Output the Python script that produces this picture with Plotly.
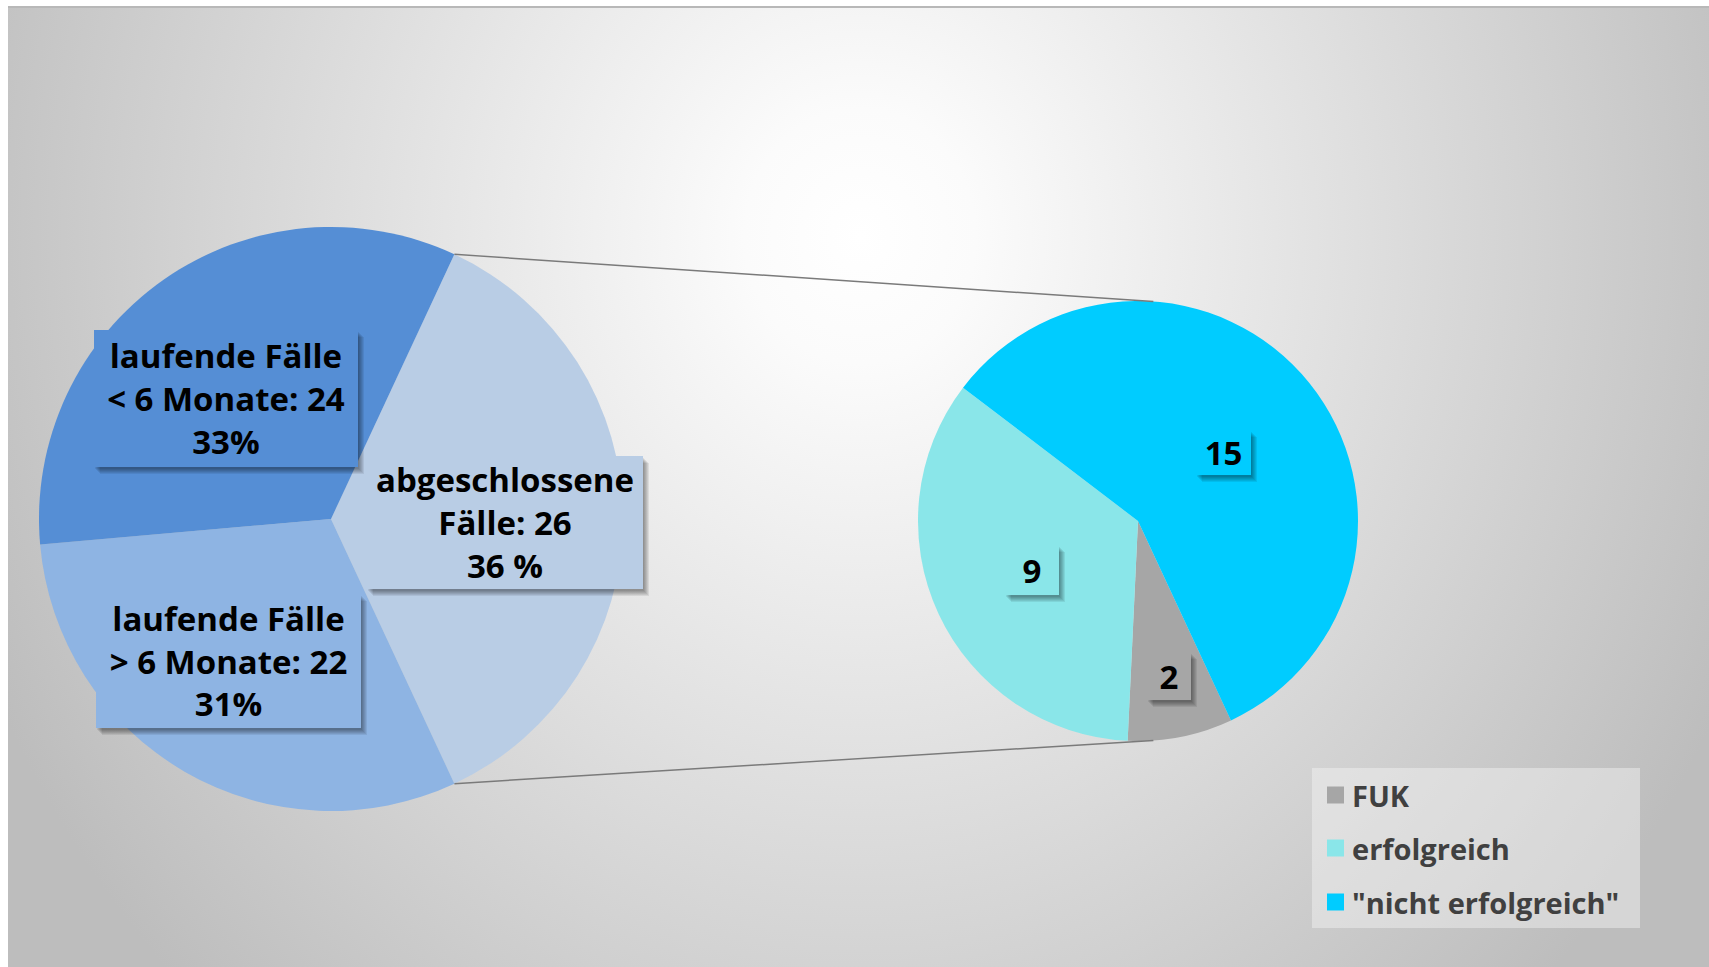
import base64
import math
import plotly.graph_objects as go

# ---------------- data ----------------
main_categories = ["abgeschlossene Fälle", "laufende Fälle > 6 Monate", "laufende Fälle < 6 Monate"]
main_values = [26, 22, 24]
main_label_head = ["abgeschlossene", "laufende Fälle", "laufende Fälle"]
main_label_name = ["Fälle", "&gt; 6 Monate", "&lt; 6 Monate"]
main_percent_text = ["36 %", "31%", "33%"]
main_colors = ["#B9CDE5", "#8EB4E3", "#558ED5"]

sub_categories = ["FUK", "erfolgreich", "\"nicht erfolgreich\""]
sub_values = [2, 9, 15]
sub_colors = ["#A6A6A6", "#8AE6E9", "#00CCFF"]

# ---------------- geometry (pixels) ----------------
W, H = 1709, 967
L_cx, L_cy, L_r = 331, 519, 292
R_cx, R_cy, R_r = 1138, 521, 220
R_rotation = 155
L_rotation = 90 - 360 * main_values[0] / sum(main_values) / 2

def px(x):
    return x / W

def py(y):
    return 1 - y / H

def domain(cx, cy, r):
    return dict(x=[px(cx - r), px(cx + r)], y=[py(cy + r), py(cy - r)])

def polar(cx, cy, r, ang):
    a = math.radians(ang)
    return cx + r * math.sin(a), cy - r * math.cos(a)

def mid_angles(values, rotation):
    tot = sum(values)
    out, start = [], rotation
    for v in values:
        span = 360 * v / tot
        out.append(start + span / 2)
        start += span
    return out

fig = go.Figure()
fig.add_trace(go.Pie(
    labels=main_categories, values=main_values, sort=False, direction="clockwise",
    rotation=L_rotation, marker=dict(colors=main_colors, line=dict(width=0)),
    textinfo="none", hoverinfo="label+value+percent", showlegend=False,
    domain=domain(L_cx, L_cy, L_r),
))
fig.add_trace(go.Pie(
    labels=sub_categories, values=sub_values, sort=False, direction="clockwise",
    rotation=R_rotation, marker=dict(colors=sub_colors, line=dict(width=0)),
    textinfo="none", hoverinfo="label+value+percent", showlegend=False,
    domain=domain(R_cx, R_cy, R_r),
))

# ---------------- background (radial gradient) ----------------
bx0, by0 = 8, 6
bw, bh = W - bx0, H - by0
svg = (
    f'<svg xmlns="http://www.w3.org/2000/svg" width="{bw}" height="{bh}" viewBox="0 0 {bw} {bh}" '
    f'preserveAspectRatio="none"><defs><radialGradient id="g" gradientUnits="userSpaceOnUse" '
    f'cx="0" cy="0" r="1" gradientTransform="translate(852 230) scale(960 1060)">'
    f'<stop offset="0" stop-color="#ffffff"/><stop offset="0.12" stop-color="#fbfbfb"/>'
    f'<stop offset="1" stop-color="#bdbdbd"/></radialGradient></defs>'
    f'<rect x="0" y="0" width="{bw}" height="{bh}" fill="url(#g)"/></svg>'
)
src = "data:image/svg+xml;base64," + base64.b64encode(svg.encode()).decode()
images = [dict(source=src, xref="paper", yref="paper", x=px(bx0), y=py(by0),
               sizex=bw / W, sizey=bh / H, xanchor="left", yanchor="top",
               sizing="stretch", layer="below")]

shapes = []
annotations = []

# top frame line
shapes.append(dict(type="line", xref="paper", yref="paper", x0=px(bx0), x1=1, y0=py(by0 + 1), y1=py(by0 + 1),
                   line=dict(color="#b8b8b8", width=2), layer="below"))

# connector lines
tot = sum(main_values)
a_top = L_rotation
a_bot = L_rotation + 360 * main_values[0] / tot
p1 = polar(L_cx, L_cy, L_r, a_top)
p2 = polar(R_cx, R_cy, R_r, 4)
p3 = polar(L_cx, L_cy, L_r, a_bot)
p4 = polar(R_cx, R_cy, R_r, 176)
for a, b in [(p1, p2), (p3, p4)]:
    shapes.append(dict(type="line", xref="paper", yref="paper",
                       x0=px(a[0]), y0=py(a[1]), x1=px(b[0]), y1=py(b[1]),
                       line=dict(color="#7a7a7a", width=1.5)))

label_font = dict(family="Open Sans", size=33, color="#000000", weight="bold")

def boxed_label(cx, cy, text, w, h, color, font):
    # soft shadow layers
    for k in range(1, 7):
        annotations.append(dict(xref="paper", yref="paper", x=px(cx + k), y=py(cy + k + 1),
                                text=" ", showarrow=False, width=w, height=h,
                                bgcolor="rgba(0,0,0,0.075)", borderpad=0, borderwidth=0,
                                xanchor="center", yanchor="middle"))
    annotations.append(dict(xref="paper", yref="paper", x=px(cx), y=py(cy), text=text,
                            showarrow=False, width=w, height=h, bgcolor=color, borderpad=0,
                            borderwidth=0, font=font, align="center", valign="middle",
                            xanchor="center", yanchor="middle"))

# main pie labels
main_label_frac = [0.596, 0.60, 0.546]
main_label_dang = [1, 6, -6]
main_box = [(276, 133), (265, 134), (264, 137)]
for i, ang in enumerate(mid_angles(main_values, L_rotation)):
    x, y = polar(L_cx, L_cy, L_r * main_label_frac[i], ang + main_label_dang[i])
    text = f"{main_label_head[i]}<br>{main_label_name[i]}: {main_values[i]}<br>{main_percent_text[i]}"
    boxed_label(x, y, text, main_box[i][0], main_box[i][1], main_colors[i], label_font)

# sub pie labels
sub_label_frac = [0.72, 0.53, 0.5]
sub_box = [(44, 48), (54, 50), (55, 45)]
for i, ang in enumerate(mid_angles(sub_values, R_rotation)):
    x, y = polar(R_cx, R_cy, R_r * sub_label_frac[i], ang)
    boxed_label(x, y, str(sub_values[i]), sub_box[i][0], sub_box[i][1], sub_colors[i], label_font)

# legend (manual)
lg_x0, lg_x1, lg_y0, lg_y1 = 1312, 1640, 768, 928
shapes.append(dict(type="rect", xref="paper", yref="paper", x0=px(lg_x0), x1=px(lg_x1),
                   y0=py(lg_y1), y1=py(lg_y0), fillcolor="rgba(245,245,245,0.45)",
                   line=dict(width=0), layer="below"))
leg_y = [795, 848, 902]
for i, name in enumerate(sub_categories):
    yc = leg_y[i]
    shapes.append(dict(type="rect", xref="paper", yref="paper", x0=px(1327), x1=px(1344),
                       y0=py(yc + 8.5), y1=py(yc - 8.5), fillcolor=sub_colors[i],
                       line=dict(width=0)))
    annotations.append(dict(xref="paper", yref="paper", x=px(1350), y=py(yc), text=name,
                            showarrow=False, xanchor="left", yanchor="middle",
                            font=dict(family="Open Sans", size=29, color="#404040", weight="bold")))

fig.update_layout(
    width=W, height=H, margin=dict(l=0, r=0, t=0, b=0),
    paper_bgcolor="#ffffff", plot_bgcolor="#ffffff",
    images=images, shapes=shapes, annotations=annotations, showlegend=False,
)
fig.write_html("out.html")
